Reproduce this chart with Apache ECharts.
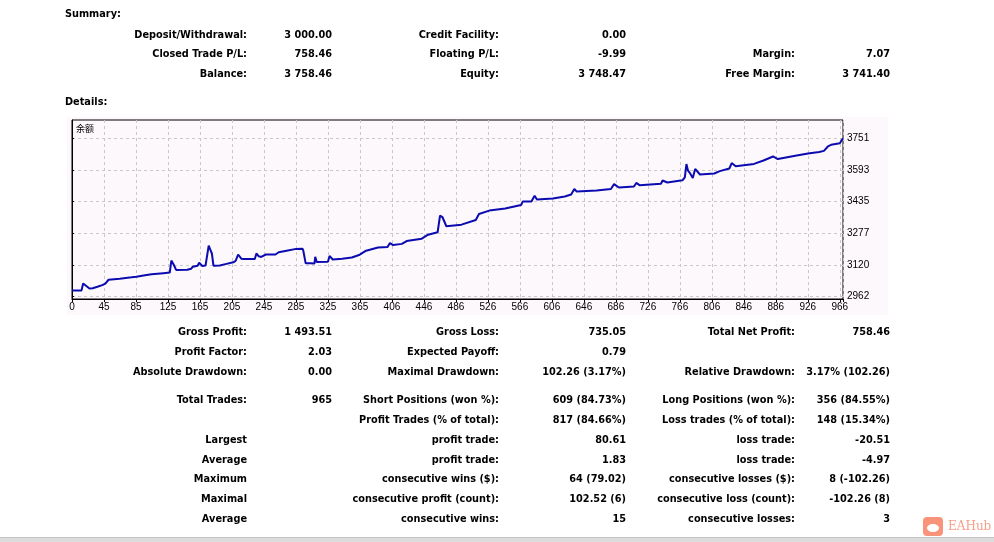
<!DOCTYPE html>
<html>
<head>
<meta charset="utf-8">
<script src="https://cdn.jsdelivr.net/npm/echarts@6/dist/echarts.min.js"></script>
<style>
  html, body { margin: 0; padding: 0; background: #fff; }
  #bg { position: absolute; left: 67px; top: 117px; width: 821px; height: 198px; background: #fcf8fc; }
  #main { position: absolute; left: 0; top: 0; width: 994px; height: 542px; }
</style>
</head>
<body>
<div id="bg"></div>
<div id="main"></div>
<script>
// balance curve (trade number -> balance)
const tradeNo = [0, 12, 14, 16, 22, 26, 32, 38, 42, 46, 60, 75, 81, 90, 100, 115, 123, 125, 128, 131,
  145, 150, 152, 158, 160, 164, 168, 170, 172, 174, 176, 178, 186, 193, 203, 206, 209, 213, 216, 230,
  232, 235, 238, 244, 256, 260, 270, 282, 290, 291, 294, 300, 305, 306, 308, 322, 324, 328, 340, 352,
  362, 370, 385, 397, 400, 404, 415, 421, 440, 448, 460, 462, 463, 466, 467, 471, 490, 508, 510, 512,
  525, 527, 545, 565, 567, 578, 580, 582, 585, 605, 620, 628, 632, 635, 660, 678, 682, 688, 707, 710,
  714, 741, 743, 749, 768, 771, 773, 775, 777, 781, 784, 790, 808, 815, 827, 830, 835, 858, 870, 882,
  884, 888, 910, 926, 940, 946, 951, 955, 966, 970];
const balance = [2991, 2992, 3026, 3018, 3001, 3003, 3010, 3018, 3026, 3045, 3050, 3057, 3060, 3066, 3072, 3078, 3081, 3141, 3120, 3094,
  3095, 3100, 3110, 3115, 3130, 3114, 3116, 3123, 3215, 3195, 3176, 3115, 3116, 3123, 3132, 3140, 3171, 3150, 3148, 3149,
  3176, 3162, 3159, 3171, 3171, 3182, 3190, 3199, 3200, 3190, 3127, 3127, 3126, 3159, 3133, 3135, 3164, 3146, 3150, 3156,
  3170, 3190, 3206, 3208, 3228, 3218, 3224, 3238, 3250, 3270, 3282, 3283, 3365, 3358, 3366, 3312, 3320, 3343, 3345, 3373,
  3390, 3396, 3400, 3418, 3435, 3435, 3432, 3464, 3445, 3450, 3460, 3470, 3498, 3485, 3490, 3498, 3522, 3505, 3510, 3528,
  3517, 3524, 3540, 3530, 3541, 3556, 3622, 3590, 3580, 3553, 3598, 3570, 3575, 3587, 3600, 3627, 3611, 3623, 3640, 3660,
  3665, 3647, 3664, 3675, 3682, 3688, 3710, 3718, 3726, 3751];

const xTickLabels = ['0', '45', '85', '125', '165', '205', '245', '285', '325', '365', '406', '446', '486',
  '526', '566', '606', '646', '686', '726', '766', '806', '846', '886', '926', '966'];
const yTicks = [2962, 3119.8, 3277.6, 3435.4, 3593.2, 3751];
const yTickLabels = ['2962', '3120', '3277', '3435', '3593', '3751'];
const seriesName = '余额';

const summaryRows = [
  ['Deposit/Withdrawal:', '3 000.00', 'Credit Facility:', '0.00', '', ''],
  ['Closed Trade P/L:', '758.46', 'Floating P/L:', '-9.99', 'Margin:', '7.07'],
  ['Balance:', '3 758.46', 'Equity:', '3 748.47', 'Free Margin:', '3 741.40']
];
const detailRows = [
  ['Gross Profit:', '1 493.51', 'Gross Loss:', '735.05', 'Total Net Profit:', '758.46'],
  ['Profit Factor:', '2.03', 'Expected Payoff:', '0.79', '', ''],
  ['Absolute Drawdown:', '0.00', 'Maximal Drawdown:', '102.26 (3.17%)', 'Relative Drawdown:', '3.17% (102.26)'],
  ['Total Trades:', '965', 'Short Positions (won %):', '609 (84.73%)', 'Long Positions (won %):', '356 (84.55%)'],
  ['', '', 'Profit Trades (% of total):', '817 (84.66%)', 'Loss trades (% of total):', '148 (15.34%)'],
  ['Largest', '', 'profit trade:', '80.61', 'loss trade:', '-20.51'],
  ['Average', '', 'profit trade:', '1.83', 'loss trade:', '-4.97'],
  ['Maximum', '', 'consecutive wins ($):', '64 (79.02)', 'consecutive losses ($):', '8 (-102.26)'],
  ['Maximal', '', 'consecutive profit (count):', '102.52 (6)', 'consecutive loss (count):', '-102.26 (8)'],
  ['Average', '', 'consecutive wins:', '15', 'consecutive losses:', '3']
];

const boldFont = 'bold 9.75px "DejaVu Sans", Tahoma, sans-serif';
const colRight = [247, 332, 499, 626, 795, 890];
const summaryY = [35.5, 54.5, 74];
const detailY = [332, 352, 372, 400, 420, 440, 460, 479, 499, 519];

function textEl(str, x, y, align, font, fill) {
  return {
    type: 'text', x: x, y: y, silent: true,
    style: { text: str, font: font, fill: fill || '#000', textAlign: align, textVerticalAlign: 'middle', align: align, verticalAlign: 'middle' }
  };
}

const graphics = [];
graphics.push(textEl('Summary:', 65, 14.5, 'left', boldFont));
graphics.push(textEl('Details:', 65, 102, 'left', boldFont));
summaryRows.forEach((row, r) => row.forEach((s, c) => {
  if (s) graphics.push(textEl(s, colRight[c], summaryY[r], 'right', boldFont));
}));
detailRows.forEach((row, r) => row.forEach((s, c) => {
  if (s) graphics.push(textEl(s, colRight[c], detailY[r], 'right', boldFont));
}));
graphics.push(textEl(seriesName, 76, 129, 'left', '9px "Noto Sans CJK SC", sans-serif'));
// bottom status strip
graphics.push({ type: 'rect', shape: { x: 0, y: 537, width: 994, height: 5 }, style: { fill: '#dcdcdc' }, silent: true });
graphics.push({ type: 'rect', shape: { x: 0, y: 537, width: 994, height: 1 }, style: { fill: '#c4c4c4' }, silent: true });
// watermark
graphics.push({ type: 'rect', shape: { x: 923, y: 517, width: 20, height: 19, r: 4 }, style: { fill: '#f9937a' }, silent: true });
graphics.push({ type: 'ellipse', shape: { cx: 933, cy: 528, rx: 6, ry: 4 }, style: { fill: '#fff' }, silent: true });
graphics.push(textEl('EAHub', 948, 527, 'left', '12px "DejaVu Serif", serif', '#f6a08a'));

const chart = echarts.init(document.getElementById('main'));
chart.setOption({
  animation: false,
  backgroundColor: 'transparent',
  grid: { left: 72, top: 120, width: 771, height: 179, show: true, borderColor: '#000', borderWidth: 1, backgroundColor: 'transparent' },
  xAxis: {
    type: 'value', min: 0, max: 970, interval: 40.25,
    axisLine: { show: true, lineStyle: { color: '#000', width: 1 } },
    axisTick: { show: true, length: 3, lineStyle: { color: '#000' } },
    axisLabel: {
      margin: 3, color: '#000', fontSize: 10, fontFamily: '"Liberation Sans Narrow", "Liberation Sans", sans-serif',
      formatter: v => {
        const i = Math.round(v / 40.25);
        return Math.abs(v - i * 40.25) < 0.01 && xTickLabels[i] !== undefined ? xTickLabels[i] : '';
      }
    },
    splitLine: { show: true, lineStyle: { color: '#c8c8c8', type: [3, 3], width: 1 } }
  },
  yAxis: {
    type: 'value', position: 'right', min: 2949, max: 3842, scale: true,
    axisLine: { show: true, lineStyle: { color: '#000', width: 1 } },
    axisTick: { show: true, length: 2, lineStyle: { color: '#000' }, customValues: yTicks },
    axisLabel: {
      margin: 4, color: '#000', fontSize: 10, fontFamily: '"Liberation Sans Narrow", "Liberation Sans", sans-serif',
      customValues: yTicks,
      formatter: v => {
        const i = yTicks.findIndex(t => Math.abs(t - v) < 0.01);
        return i >= 0 ? yTickLabels[i] : '';
      }
    },
    splitLine: { show: true, lineStyle: { color: '#c8c8c8', type: [3, 3], width: 1 } }
  },
  graphic: { elements: graphics },
  series: [{
    name: seriesName,
    type: 'line',
    data: tradeNo.map((t, i) => [t, balance[i]]),
    showSymbol: false,
    lineStyle: { color: '#0b0bb0', width: 2 },
    itemStyle: { color: '#0b0bb0' }
  }]
});
</script>
</body>
</html>
